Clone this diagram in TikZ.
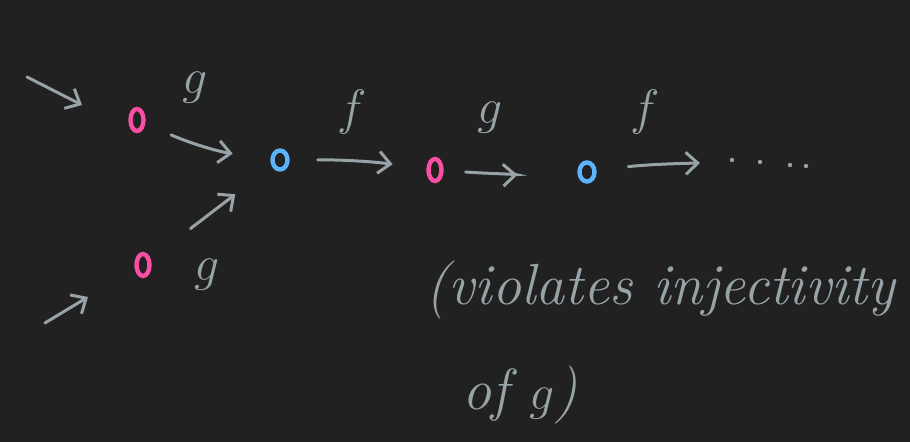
\documentclass[tikz,border=0pt]{standalone}
\usepackage{tikz}
\usetikzlibrary{arrows.meta,positioning,shapes.geometric}
\definecolor{board}{HTML}{212121}
\definecolor{chalk}{HTML}{97A3A6}
\definecolor{ptpink}{HTML}{FF4FA3}
\definecolor{ptblue}{HTML}{5CB3FF}
\tikzset{
  arr/.style={draw=chalk, line width=1.5pt, line cap=round,
    -{Straight Barb[length=6pt,width=11pt,line width=1.5pt]}},
  pinkpt/.style={ellipse, draw=ptpink, line width=2.2pt, minimum width=6.5pt, minimum height=11pt, inner sep=0pt},
  bluept/.style={ellipse, draw=ptblue, line width=2.2pt, minimum width=7.5pt, minimum height=9.5pt, inner sep=0pt},
  lbl/.style={text=chalk, font=\fontsize{28}{32}\selectfont},
  note/.style={text=chalk, font=\fontsize{29}{34}\selectfont\itshape, inner sep=0pt},
}
\begin{document}
\begin{tikzpicture}[x=0.5pt,y=-0.5pt]
\fill[board] (0,0) rectangle (910,442);
\useasboundingbox (0,0) rectangle (910,442);
% points
\node[pinkpt] (p1) at (137,120) {};
\node[pinkpt] (p3) at (143,265) {};
\node[bluept] (b1) at (280,160) {};
\node[pinkpt] (p2) at (435,170) {};
\node[bluept] (b2) at (587,172) {};
% stray arrows coming in
\coordinate (in1a) at (27,77);
\coordinate (in1b) at (82,105);
\coordinate (in3a) at (45,323);
\coordinate (in3b) at (88,297);
\draw[arr] (in1a) -- (in1b);
\draw[arr] (in3a) -- (in3b);
% maps
\draw[arr, shorten <=14pt, shorten >=19pt] (p1) to[bend right=8] (b1);
\draw[arr, shorten <=25pt, shorten >=23pt] (p3) -- (b1);
\draw[arr, shorten <=14pt, shorten >=17pt] (b1) to[bend left=4] (p2);
\draw[arr, shorten <=11pt, shorten >=30pt] (p2) to[bend right=3] (b2);
\coordinate (tail) at (700,163);
\draw[arr, shorten <=16pt] (b2) to[bend left=3] (tail);
\foreach \x/\y in {732/160,760/162,790/165,806/166}{\fill[chalk] (\x,\y) circle (1.1pt);}
% labels
\node[lbl] (g1) at (195,88) {$g$};
\node[lbl] (g3) at (207,275) {$g$};
\node[lbl] (f1) at (352,112) {$f$};
\node[lbl] (g2) at (490,118) {$g$};
\node[lbl] (f2) at (645,112) {$f$};
% remark
\node[note, anchor=west] (rem1) at (425,290) {(violates injectivity};
\node[note, anchor=west] (rem2) at (462,395) {of $g$)};
\end{tikzpicture}
\end{document}
